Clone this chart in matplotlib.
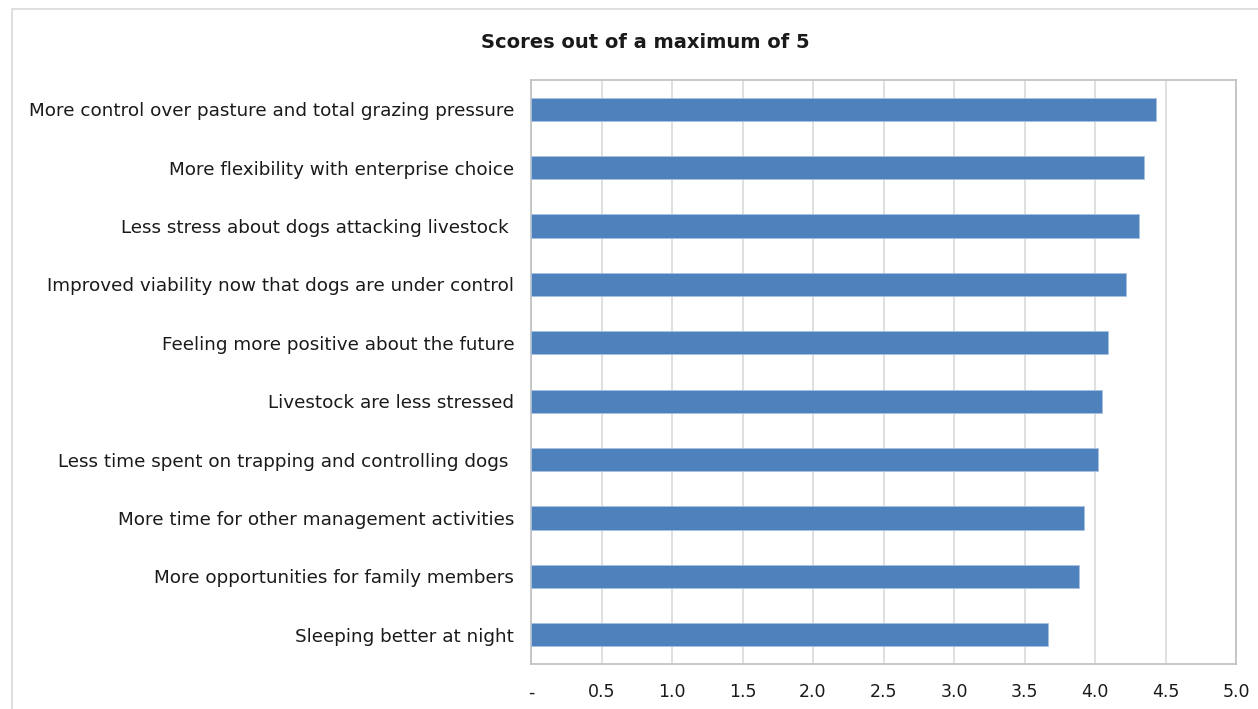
import matplotlib
matplotlib.use("Agg")
import matplotlib.pyplot as plt
from matplotlib.patches import Rectangle

labels = [
    "More control over pasture and total grazing pressure",
    "More flexibility with enterprise choice",
    "Less stress about dogs attacking livestock ",
    "Improved viability now that dogs are under control",
    "Feeling more positive about the future",
    "Livestock are less stressed",
    "Less time spent on trapping and controlling dogs ",
    "More time for other management activities",
    "More opportunities for family members",
    "Sleeping better at night",
]
scores = [4.43, 4.35, 4.31, 4.22, 4.09, 4.05, 4.02, 3.92, 3.89, 3.67]
xticks = [0, 0.5, 1.0, 1.5, 2.0, 2.5, 3.0, 3.5, 4.0, 4.5, 5.0]
xticklabels = ["-", "0.5", "1.0", "1.5", "2.0", "2.5", "3.0", "3.5", "4.0", "4.5", "5.0"]

W, H = 1258, 709
fig = plt.figure(figsize=(W / 100, H / 100), dpi=100)
plt.rcParams['font.family'] = ['DejaVu Sans']

# outer chart frame
fig.patches.append(Rectangle((12 / W, -0.1), 1, 1.1 - 9 / H, transform=fig.transFigure,
                             fill=False, edgecolor="#d9d9d9", lw=1.2))

left, right, top, bottom = 531, 1236, 80, 664
ax = fig.add_axes([left / W, 1 - bottom / H, (right - left) / W, (bottom - top) / H])

pos = list(range(len(labels)))
ax.barh(pos, scores, height=0.4, color="#4f81bd", edgecolor="#a9c1e0", lw=0.6, zorder=3)
ax.set_ylim(len(labels) - 0.5, -0.5)
ax.set_xlim(0, 5)
ax.set_yticks(pos)
ax.set_yticklabels(labels, fontsize=13.2, color="#1a1a1a")
ax.set_xticks(xticks)
ax.set_xticklabels(xticklabels, fontsize=12.5, color="#1a1a1a")
ax.tick_params(length=0, axis="y", pad=12)
ax.tick_params(length=0, axis="x", pad=14)
ax.grid(axis="x", color="#d9d9d9", lw=1.2, zorder=0)
for s in ax.spines.values():
    s.set_color("#bfbfbf")
    s.set_linewidth(1.2)

fig.text(645 / W, 1 - 43 / H, "Scores out of a maximum of 5", ha="center", va="center",
         fontsize=14, fontweight="bold", color="#1a1a1a")

fig.savefig("out.png", dpi=100)
